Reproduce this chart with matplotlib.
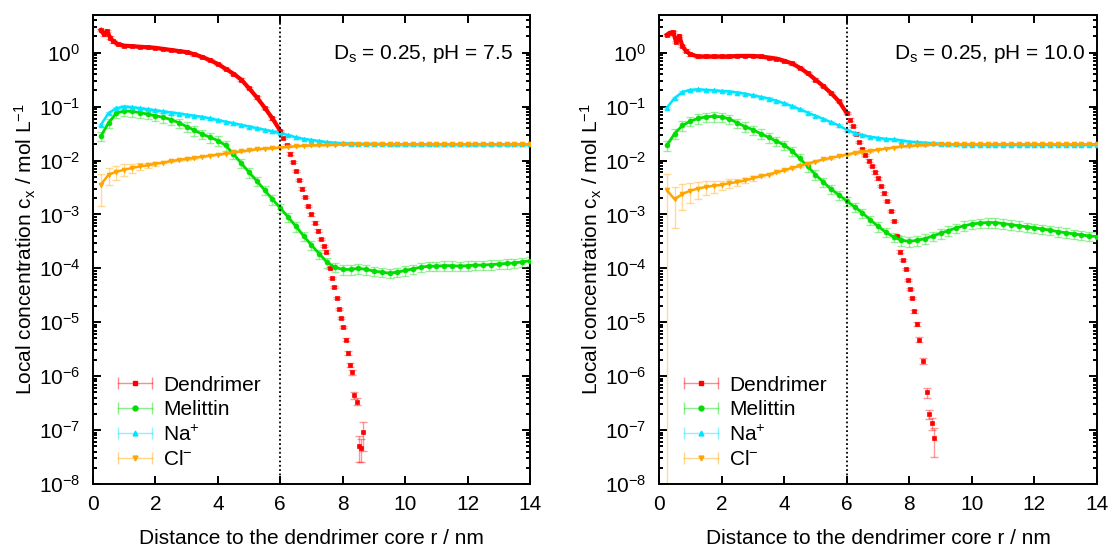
import numpy as np
import matplotlib
matplotlib.use('Agg')
import matplotlib.pyplot as plt
from matplotlib.lines import Line2D
from matplotlib.legend_handler import HandlerLine2D
from matplotlib.ticker import LogLocator, NullFormatter, MultipleLocator

plt.rcParams['font.family'] = ['Liberation Sans', 'DejaVu Sans']
plt.rcParams['mathtext.fontset'] = 'custom'
plt.rcParams['mathtext.rm'] = 'Liberation Sans'
plt.rcParams['mathtext.it'] = 'Liberation Sans:italic'
plt.rcParams['mathtext.default'] = 'rm'

# ---- data (concentrations, stored as log10 c) ----
r_grid = [0.25, 0.5, 0.75, 1.0, 1.25, 1.5, 1.75, 2.0, 2.25, 2.5,
          2.75, 3.0, 3.25, 3.5, 3.75, 4.0, 4.25, 4.5, 4.75, 5.0,
          5.25, 5.5, 5.75, 6.0, 6.25, 6.5, 6.75, 7.0, 7.25, 7.5,
          7.75, 8.0, 8.25, 8.5, 8.75, 9.0, 9.25, 9.5, 9.75, 10.0,
          10.25, 10.5, 10.75, 11.0, 11.25, 11.5, 11.75, 12.0, 12.25, 12.5,
          12.75, 13.0, 13.25, 13.5, 13.75, 14.0]

# pH 7.5
den_r_75 = [0.25, 0.35, 0.45, 0.55, 0.65, 0.8, 1.0, 1.25, 1.5, 1.75,
            2.0, 2.25, 2.5, 2.75, 3.0, 3.25, 3.5, 3.75, 4.0, 4.25,
            4.5, 4.75, 5.0, 5.25, 5.5, 5.75, 6.0, 6.1, 6.2, 6.3,
            6.4, 6.5, 6.6, 6.7, 6.8, 6.9, 7.0, 7.1, 7.2, 7.3,
            7.4, 7.47, 7.59, 7.65, 7.73, 7.81, 7.88, 7.95, 8.02, 8.11,
            8.16, 8.23, 8.30, 8.37, 8.45, 8.52, 8.58, 8.64]
den_log_75 = [0.42, 0.34, 0.40, 0.28, 0.21, 0.16, 0.13, 0.12, 0.11, 0.10,
              0.09, 0.07, 0.05, 0.03, 0.01, -0.03, -0.08, -0.14, -0.21, -0.30,
              -0.39, -0.50, -0.66, -0.83, -1.02, -1.22, -1.45, -1.58, -1.72, -1.87,
              -2.03, -2.20, -2.36, -2.52, -2.68, -2.84, -3.00, -3.15, -3.30, -3.45,
              -3.58, -3.69, -3.99, -4.18, -4.34, -4.55, -4.75, -4.92, -5.09, -5.32,
              -5.57, -5.79, -5.93, -6.35, -6.47, -7.29, -7.33, -7.04]
den_tail_err_75 = [0.08, 0.10, 0.10, 0.12, 0.15, 0.15, 0.50, 0.45, 0.55]

mel_log_75 = [-1.55, -1.30, -1.12, -1.08, -1.09, -1.11, -1.14, -1.17, -1.20, -1.24,
              -1.30, -1.37, -1.44, -1.51, -1.57, -1.63, -1.72, -1.88, -2.05, -2.22,
              -2.38, -2.55, -2.72, -2.88, -3.05, -3.22, -3.40, -3.57, -3.73, -3.89,
              -3.98, -4.02, -4.02, -4.00, -4.02, -4.05, -4.07, -4.09, -4.07, -4.04,
              -4.01, -3.98, -3.96, -3.96, -3.95, -3.95, -3.96, -3.95, -3.94, -3.94,
              -3.93, -3.92, -3.91, -3.90, -3.88, -3.86]

na_log_75 = [-1.34, -1.12, -1.03, -1.00, -1.01, -1.03, -1.05, -1.07, -1.09, -1.11,
             -1.13, -1.15, -1.17, -1.19, -1.22, -1.25, -1.28, -1.31, -1.34, -1.37,
             -1.40, -1.43, -1.46, -1.49, -1.53, -1.57, -1.60, -1.62, -1.64, -1.66,
             -1.67, -1.68, -1.685, -1.69, -1.69, -1.69, -1.695, -1.70, -1.70, -1.70,
             -1.70, -1.70, -1.70, -1.70, -1.70, -1.70, -1.70, -1.70, -1.70, -1.70,
             -1.70, -1.70, -1.70, -1.70, -1.70, -1.70]

cl_log_75 = [-2.45, -2.26, -2.21, -2.17, -2.14, -2.11, -2.09, -2.06, -2.04, -2.01,
             -1.99, -1.97, -1.95, -1.93, -1.91, -1.89, -1.87, -1.85, -1.83, -1.81,
             -1.79, -1.78, -1.77, -1.76, -1.745, -1.735, -1.725, -1.72, -1.715, -1.71,
             -1.705, -1.70, -1.70, -1.70, -1.70, -1.70, -1.70, -1.70, -1.70, -1.70,
             -1.70, -1.70, -1.70, -1.70, -1.70, -1.70, -1.70, -1.70, -1.70, -1.70,
             -1.70, -1.70, -1.70, -1.70, -1.70, -1.70]
cl_head_err_75 = [0.6, 0.35, 0.3, 0.25, 0.2, 0.15, 0.12, 0.1]

# pH 10.0
den_r_10 = [0.25, 0.35, 0.45, 0.55, 0.65, 0.75, 0.85, 1.0, 1.25, 1.5,
            1.75, 2.0, 2.25, 2.5, 2.75, 3.0, 3.25, 3.5, 3.75, 4.0,
            4.25, 4.5, 4.75, 5.0, 5.25, 5.5, 5.75, 6.0, 6.1, 6.2,
            6.3, 6.4, 6.5, 6.6, 6.7, 6.8, 6.9, 7.0, 7.1, 7.2,
            7.3, 7.4, 7.5, 7.6, 7.70, 7.81, 7.89, 7.97, 8.03, 8.10,
            8.16, 8.24, 8.32, 8.45, 8.56, 8.64, 8.72, 8.79]
den_log_10 = [0.33, 0.37, 0.38, 0.20, 0.31, 0.12, 0.04, -0.03, -0.07, -0.07,
              -0.07, -0.07, -0.07, -0.06, -0.06, -0.06, -0.07, -0.09, -0.11, -0.15,
              -0.20, -0.28, -0.38, -0.50, -0.62, -0.75, -0.90, -1.12, -1.24, -1.36,
              -1.50, -1.65, -1.78, -1.90, -2.00, -2.10, -2.22, -2.33, -2.47, -2.61,
              -2.75, -2.93, -3.12, -3.40, -3.69, -3.85, -4.01, -4.21, -4.38, -4.55,
              -4.80, -5.03, -5.32, -5.71, -6.30, -6.70, -6.87, -7.15]
den_tail_err_10 = [0.06, 0.08, 0.10, 0.12, 0.20, 0.20, 0.25, 0.55]

mel_log_10 = [-1.72, -1.50, -1.35, -1.27, -1.22, -1.19, -1.18, -1.19, -1.23, -1.30,
              -1.37, -1.43, -1.50, -1.57, -1.64, -1.71, -1.82, -1.96, -2.11, -2.26,
              -2.40, -2.53, -2.64, -2.75, -2.86, -2.97, -3.10, -3.22, -3.33, -3.42,
              -3.48, -3.50, -3.48, -3.45, -3.40, -3.35, -3.30, -3.25, -3.21, -3.18,
              -3.16, -3.15, -3.15, -3.17, -3.19, -3.21, -3.23, -3.25, -3.27, -3.29,
              -3.32, -3.34, -3.36, -3.38, -3.40, -3.41]

na_log_10 = [-1.02, -0.84, -0.73, -0.69, -0.68, -0.69, -0.70, -0.71, -0.72, -0.74,
             -0.76, -0.79, -0.82, -0.85, -0.89, -0.94, -0.99, -1.05, -1.11, -1.17,
             -1.23, -1.29, -1.35, -1.43, -1.49, -1.53, -1.56, -1.58, -1.60, -1.61,
             -1.63, -1.65, -1.66, -1.67, -1.68, -1.69, -1.70, -1.70, -1.71, -1.71,
             -1.71, -1.71, -1.71, -1.71, -1.71, -1.71, -1.71, -1.71, -1.71, -1.71,
             -1.71, -1.71, -1.71, -1.71, -1.71, -1.71]

cl_log_10 = [-2.55, -2.72, -2.62, -2.56, -2.52, -2.49, -2.47, -2.45, -2.42, -2.40,
             -2.37, -2.33, -2.29, -2.26, -2.22, -2.18, -2.14, -2.10, -2.06, -2.02,
             -1.98, -1.95, -1.92, -1.89, -1.86, -1.84, -1.82, -1.80, -1.78, -1.76,
             -1.74, -1.73, -1.72, -1.71, -1.70, -1.70, -1.70, -1.70, -1.70, -1.70,
             -1.70, -1.70, -1.70, -1.70, -1.70, -1.70, -1.70, -1.70, -1.70, -1.70,
             -1.70, -1.70, -1.70, -1.70, -1.70, -1.70]
cl_head_err_10 = [0.999999, 0.7, 0.5, 0.4, 0.35, 0.3, 0.25, 0.2, 0.18, 0.15, 0.12, 0.1]

core_radius = 6.0
panel_titles = ['D$_s$ = 0.25, pH = 7.5', 'D$_s$ = 0.25, pH = 10.0']
labels = ['Dendrimer', 'Melittin', 'Na$^{+}$', 'Cl$^{-}$']

RED, GREEN, CYAN, ORANGE = '#ff0000', '#00dd00', '#00e5ff', '#ffa500'
MARKERS = ['s', 'o', '^', 'v']
COLORS = [RED, GREEN, CYAN, ORANGE]
FS = 15


def rel_err(n, base, head=(), tail=()):
    e = np.full(n, base)
    if len(head):
        e[:len(head)] = head
    if len(tail):
        e[n - len(tail):] = tail
    return e


def draw(ax, r, logc, err, color, marker, line_max=None, lw=1.8):
    r = np.asarray(r)
    c = 10.0 ** np.asarray(logc)
    ax.errorbar(r, c, yerr=c * err, fmt='none', ecolor=color, alpha=0.4,
                elinewidth=1.0, capsize=3, capthick=1.0, zorder=2)
    m = r <= (line_max if line_max is not None else 99)
    ax.plot(r[m], c[m], '-', color=color, lw=lw, zorder=3)
    ax.plot(r, c, ls='none', marker=marker, color=color, ms=3.5, mew=0.5, zorder=3)


fig = plt.figure(figsize=(11.12, 5.53), dpi=100)
W, H = 1112, 553
ax1 = fig.add_axes([93 / W, 1 - 484 / H, 437 / W, 469 / H])
ax2 = fig.add_axes([659 / W, 1 - 484 / H, 438 / W, 469 / H])

n = len(r_grid)
panels = [
    (ax1, den_r_75, den_log_75, den_tail_err_75, mel_log_75, na_log_75, cl_log_75, cl_head_err_75, 0.549),
    (ax2, den_r_10, den_log_10, den_tail_err_10, mel_log_10, na_log_10, cl_log_10, cl_head_err_10, 0.537),
]

for i, (ax, dr, dlog, dtail, mel, na, cl, clhead, tx) in enumerate(panels):
    draw(ax, dr, dlog, rel_err(len(dr), 0.05, tail=dtail), RED, 's', line_max=6.0, lw=3.0)
    draw(ax, r_grid, mel, rel_err(n, 0.2), GREEN, 'o', lw=2.0)
    draw(ax, r_grid, na, rel_err(n, 0.05), CYAN, '^')
    draw(ax, r_grid, cl, rel_err(n, 0.03, head=clhead), ORANGE, 'v')

    ax.axvline(core_radius, color='black', ls=(0, (1, 1.4)), lw=1.3, zorder=4)

    ax.set_yscale('log')
    ax.set_xlim(0, 14)
    ax.set_ylim(1e-8, 5)
    ax.xaxis.set_major_locator(MultipleLocator(2))
    ax.yaxis.set_major_locator(LogLocator(base=10, numticks=20))
    ax.yaxis.set_minor_locator(LogLocator(base=10, subs=np.arange(2, 10), numticks=20))
    ax.yaxis.set_minor_formatter(NullFormatter())
    ax.tick_params(which='both', direction='in', top=True, right=True, width=1.4, labelsize=FS)
    ax.tick_params(which='major', length=5.5)
    ax.tick_params(which='minor', length=3)
    ax.tick_params(axis='x', pad=8)
    ax.tick_params(axis='y', pad=9)
    for s in ax.spines.values():
        s.set_linewidth(1.4)

    ax.set_xlabel('Distance to the dendrimer core r / nm', fontsize=FS)
    ax.set_ylabel('Local concentration c$_{x}$ / mol L$^{-1}$', fontsize=FS)
    ax.xaxis.set_label_coords(0.5, -0.095)
    ax.yaxis.set_label_coords(-0.125, 0.5)

    ax.text(tx, 0.906, panel_titles[i], transform=ax.transAxes, fontsize=FS,
            ha='left', va='baseline')

    handles, hmap = [], {}
    for col, mk in zip(COLORS, MARKERS):
        bar = Line2D([], [], color=col, alpha=0.45, lw=1.0, marker='|', ms=8, mew=1.0)
        pt = Line2D([], [], color=col, ls='none', marker=mk, ms=3.5)
        hmap[bar] = HandlerLine2D(numpoints=2, marker_pad=0)
        handles.append((bar, pt))
    ax.legend(handles, labels, handler_map=hmap, loc='lower left',
              bbox_to_anchor=(0.057, 0.032), frameon=False, fontsize=FS,
              borderpad=0, borderaxespad=0, handlelength=1.63,
              handletextpad=0.53, labelspacing=0.26)

fig.savefig('out.png', dpi=100)
